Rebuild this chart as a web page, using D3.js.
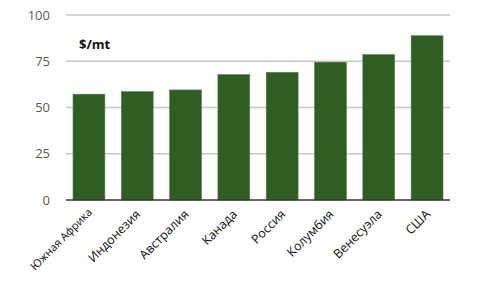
<!doctype html>
<html>
<head>
<script src="https://d3js.org/d3.v7.min.js"></script>
<style>
  body { margin: 0; background: #fff; }
  text { font-family: "Open Sans", "Noto Sans", sans-serif; }
</style>
</head>
<body>
<script>
    // data
    var countries = ["Южная Африка", "Индонезия", "Австралия", "Канада", "Россия", "Колумбия", "Венесуэла", "США"];
    var prices = [57.2, 58.6, 59.5, 67.8, 69.0, 74.5, 78.6, 88.8];
    var yTicks = [0, 25, 50, 75, 100];

    var W = 478, H = 287;
    var margin = {top: 15, right: 28, bottom: 87, left: 66},
        width = W - margin.left - margin.right,
        height = H - margin.top - margin.bottom;

    var svg = d3.select("body").append("svg")
        .attr("width", W).attr("height", H)
        .append("g")
        .attr("transform", "translate(" + margin.left + "," + margin.top + ")");

    var x = d3.scaleBand().domain(countries).range([0, width])
        .paddingInner(0.34).paddingOuter(0.145);
    var y = d3.scaleLinear().domain([0, 100]).range([height, 0]);

    // gridlines
    svg.selectAll(".grid")
        .data(yTicks.filter(function(d) { return d > 0; }))
        .enter().append("line")
        .attr("x1", 0).attr("x2", width)
        .attr("y1", function(d) { return y(d); })
        .attr("y2", function(d) { return y(d); })
        .attr("stroke", "#c8c8c8").attr("stroke-width", 1.3);

    // y axis labels
    var yAxis = svg.append("g")
        .call(d3.axisLeft(y).tickValues(yTicks).tickSize(0).tickPadding(16));
    yAxis.select(".domain").remove();
    yAxis.selectAll("text")
        .attr("fill", "#595959")
        .attr("font-size", "13px")
        .style("font-family", "'Open Sans', sans-serif");

    // bars
    svg.selectAll(".bar")
        .data(prices)
        .enter().append("rect")
        .attr("class", "bar")
        .attr("x", function(d, i) { return x(countries[i]); })
        .attr("y", function(d) { return y(d); })
        .attr("width", x.bandwidth())
        .attr("height", function(d) { return height - y(d); })
        .attr("fill", "#2f5d23")
        .attr("stroke", "#5a7d4e").attr("stroke-width", 0.6);

    // baseline
    svg.append("line")
        .attr("x1", 0).attr("x2", width)
        .attr("y1", y(0)).attr("y2", y(0))
        .attr("stroke", "#333").attr("stroke-width", 1.3);

    // x labels, rotated (first one is set smaller in the original)
    svg.selectAll(".xlab")
        .data(countries)
        .enter().append("text")
        .attr("text-anchor", "end")
        .attr("font-size", function(d, i) { return i === 0 ? "11px" : "12.5px"; })
        .attr("fill", "#111")
        .attr("transform", function(d, i) {
            var dy = i === 0 ? 13 : 15;
            return "translate(" + (x(d) + x.bandwidth() / 2 + 4) + "," + (height + dy) + ") rotate(-45)";
        })
        .text(function(d) { return d; });

    // unit label
    svg.append("text")
        .attr("x", 13).attr("y", 34)
        .attr("font-size", "13px")
        .attr("font-weight", "bold")
        .attr("fill", "#111")
        .text("$/mt");
</script>
</body>
</html>
